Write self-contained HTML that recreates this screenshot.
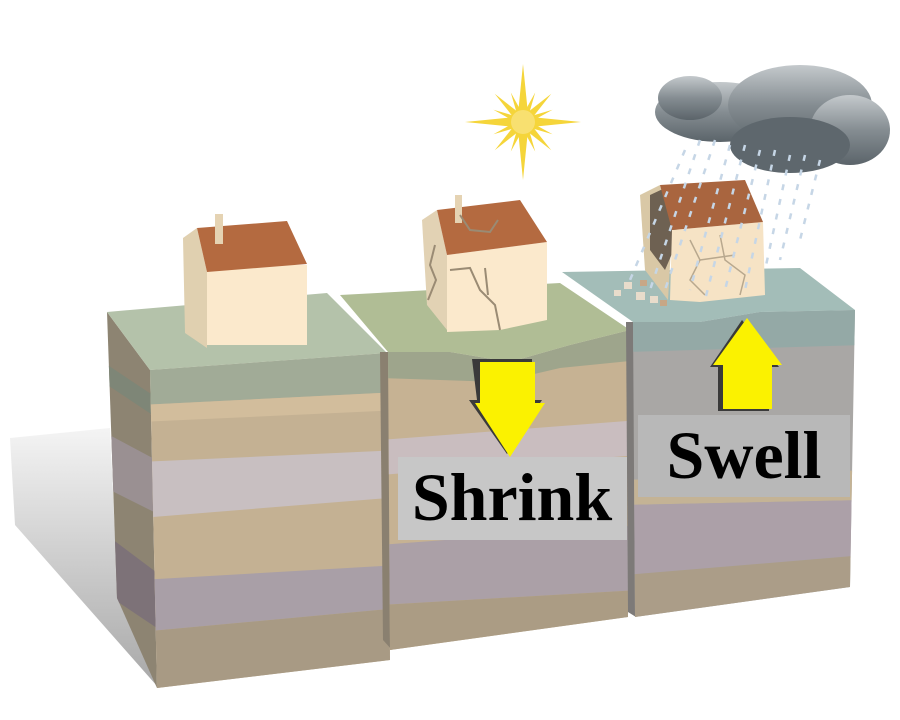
<!DOCTYPE html>
<html><head><meta charset="utf-8"><style>html,body{margin:0;padding:0;background:#fff}svg{display:block}</style></head>
<body>
<svg width="900" height="720" viewBox="0 0 900 720" xmlns="http://www.w3.org/2000/svg">
<defs>
<linearGradient id="sh" x1="0" y1="0" x2="0" y2="1"><stop offset="0" stop-color="#f4f4f4"/><stop offset="1" stop-color="#a8a8a8"/></linearGradient>
<linearGradient id="cl" x1="0" y1="0" x2="0" y2="1"><stop offset="0" stop-color="#c4c9cc"/><stop offset="0.5" stop-color="#858d92"/><stop offset="1" stop-color="#5b646a"/></linearGradient>
<clipPath id="f1"><polygon points="150,370 387,353 390,660 157,688"/></clipPath>
<clipPath id="s1"><polygon points="107,312 150,370 157,688 117,598"/></clipPath>
<clipPath id="f2"><polygon points="388,352 450,352 510,362 570,345 630,330 628,617 390,650"/></clipPath>
<clipPath id="f3"><polygon points="633,322 700,322 760,312 855,310 850,587 635,617"/></clipPath>
</defs>
<polygon points="10,438 110,428 118,600 157,686 15,525" fill="url(#sh)"/>
<g clip-path="url(#s1)">
<rect x="100" y="300" width="60" height="400" fill="#8d8472"/>
<polygon points="100,360 160,400 160,420 100,380" fill="#7e8677"/>
<polygon points="100,430 160,462 160,515 100,485" fill="#9a9092"/>
<polygon points="100,530 160,575 160,630 100,590" fill="#7d7278"/>
</g>
<g clip-path="url(#f1)">
<rect x="140" y="340" width="260" height="360" fill="#c4b193"/>
<polygon points="140,360 400,340 400,392 140,405" fill="#a1ab97"/>
<polygon points="140,405 400,392 400,410 140,422" fill="#d2bd9c"/>
<polygon points="140,462 400,450 400,497 140,518" fill="#c8bfc1"/>
<polygon points="140,580 400,565 400,608 140,632" fill="#a99fa7"/>
<polygon points="140,632 400,608 400,700 140,700" fill="#a89a84"/>
</g>
<polygon points="107,312 327,293 387,353 150,370" fill="#b4c2aa"/>
<polygon points="380,352 390,352 392,650 383,640" fill="#8a8070"/>
<g clip-path="url(#f2)">
<rect x="380" y="320" width="260" height="340" fill="#c6b293"/>
<polygon points="380,345 640,325 640,360 560,368 500,382 380,378" fill="#9ea58c"/>
<polygon points="380,440 640,420 640,455 380,475" fill="#c9bdbf"/>
<polygon points="380,545 640,525 640,590 380,605" fill="#aba0a7"/>
<polygon points="380,605 640,590 640,660 380,660" fill="#ab9c84"/>
</g>
<polygon points="340,295 560,283 630,330 570,345 510,362 450,352 388,352" fill="#b0bd95"/>
<polygon points="626,322 634,322 636,617 628,612" fill="#7d7a78"/>
<g clip-path="url(#f3)">
<rect x="625" y="300" width="240" height="330" fill="#a9a7a5"/>
<polygon points="625,320 865,305 865,345 625,352" fill="#94a9a6"/>
<polygon points="625,480 865,470 865,500 625,505" fill="#c4b395"/>
<polygon points="625,505 865,500 865,555 625,575" fill="#aca0a8"/>
<polygon points="625,575 865,555 865,630 625,630" fill="#ab9d88"/>
</g>
<polygon points="562,272 800,268 855,310 760,312 700,322 633,322" fill="#a3bdb8"/>
<g transform="translate(523,122)" fill="#f5d53a">
<polygon points="0,-58 5,-8 0,0 -5,-8"/><polygon points="0,58 5,8 0,0 -5,8"/>
<polygon points="-58,0 -8,5 0,0 -8,-5"/><polygon points="58,0 8,5 0,0 8,-5"/>
<g transform="rotate(45)"><polygon points="0,-40 4,-6 -4,-6"/><polygon points="0,40 4,6 -4,6"/><polygon points="-40,0 -6,4 -6,-4"/><polygon points="40,0 6,4 6,-4"/></g>
<g transform="rotate(22.5)"><polygon points="0,-32 3,-5 -3,-5"/><polygon points="0,32 3,5 -3,5"/><polygon points="-32,0 -5,3 -5,-3"/><polygon points="32,0 5,3 5,-3"/></g>
<g transform="rotate(67.5)"><polygon points="0,-32 3,-5 -3,-5"/><polygon points="0,32 3,5 -3,5"/><polygon points="-32,0 -5,3 -5,-3"/><polygon points="32,0 5,3 5,-3"/></g>
<circle r="12" fill="#f8e070"/>
</g>
<polygon points="183,238 197,228 207,272 207,348 185,333" fill="#e0d0b0"/>
<rect x="207" y="265" width="100" height="80" fill="#fbe9cc"/>
<polygon points="197,228 287,221 307,264 207,272" fill="#b46a40"/>
<rect x="215" y="214" width="8" height="30" fill="#e5d3b3"/>
<polygon points="422,220 437,210 447,255 447,330 427,305" fill="#e2d2b4"/>
<polygon points="447,255 547,242 547,320 500,330 447,332" fill="#fbe9cc"/>
<polygon points="437,210 520,200 547,242 447,255" fill="#b46a40"/>
<rect x="455" y="195" width="7" height="28" fill="#e5d3b3"/>
<g stroke="#9a8b74" stroke-width="2" fill="none"><path d="M450,270 L470,268 L480,290 L495,305 L500,330"/><path d="M485,268 L488,295"/><path d="M435,245 L430,265 L436,280 L428,300"/><path d="M460,215 L470,230 L490,232 L498,220"/></g>
<polygon points="640,195 660,185 672,230 668,300 645,270" fill="#d9c8a6"/>
<polygon points="650,195 665,188 680,235 665,270 650,250" fill="#6e6152"/>
<polygon points="672,230 763,222 765,295 700,302 670,300" fill="#f6e3c5"/>
<polygon points="660,185 745,180 763,222 672,230" fill="#a9653f"/>
<g fill="#e8dccb"><rect x="624" y="282" width="8" height="7"/><rect x="636" y="292" width="9" height="8"/><rect x="650" y="296" width="8" height="7"/><rect x="614" y="290" width="7" height="6"/><rect x="640" y="280" width="7" height="6" fill="#c7a786"/><rect x="660" y="300" width="7" height="6" fill="#c7a786"/></g>
<g stroke="#b8a88e" stroke-width="1.5" fill="none"><path d="M690,240 L700,260 L690,280 L705,295"/><path d="M720,235 L725,260 L745,275 L740,295"/><path d="M700,260 L735,255"/></g>
<g fill="url(#cl)">
<ellipse cx="720" cy="112" rx="65" ry="30"/><ellipse cx="800" cy="105" rx="72" ry="40"/><ellipse cx="850" cy="130" rx="40" ry="35"/><ellipse cx="690" cy="98" rx="32" ry="22"/>
</g>
<ellipse cx="790" cy="145" rx="60" ry="28" fill="#5e676d"/>
<g stroke="#c6d6e6" stroke-width="2.5" stroke-dasharray="6 9">
<line x1="700" y1="140" x2="650" y2="290"/><line x1="715" y1="140" x2="665" y2="290"/><line x1="730" y1="145" x2="690" y2="290"/><line x1="745" y1="145" x2="705" y2="300"/><line x1="760" y1="150" x2="725" y2="290"/><line x1="775" y1="150" x2="745" y2="290"/><line x1="790" y1="155" x2="765" y2="270"/><line x1="805" y1="155" x2="780" y2="260"/><line x1="820" y1="160" x2="800" y2="240"/><line x1="685" y1="150" x2="630" y2="280"/>
</g>
<polygon points="475,362 535,362 535,403 545,403 510,457 472,403 480,403" fill="#3a3a3a" transform="translate(-3,-3)"/>
<polygon points="480,362 535,362 535,403 545,403 510,457 475,403 480,403" fill="#fbf200"/>
<polygon points="745,318 782,365 772,365 772,409 721,409 721,365 713,365" fill="#3a3a3a" transform="translate(-3,2)"/>
<polygon points="747,318 782,365 772,365 772,409 723,409 723,365 713,365" fill="#fbf200"/>
<rect x="398" y="457" width="229" height="83" fill="#c7c7c7"/>
<text x="512" y="520" text-anchor="middle" font-family="Liberation Serif, serif" font-weight="bold" font-size="68">Shrink</text>
<rect x="638" y="415" width="212" height="82" fill="#b8b8b8"/>
<text x="744" y="478" text-anchor="middle" font-family="Liberation Serif, serif" font-weight="bold" font-size="68">Swell</text>
</svg>
</body></html>
